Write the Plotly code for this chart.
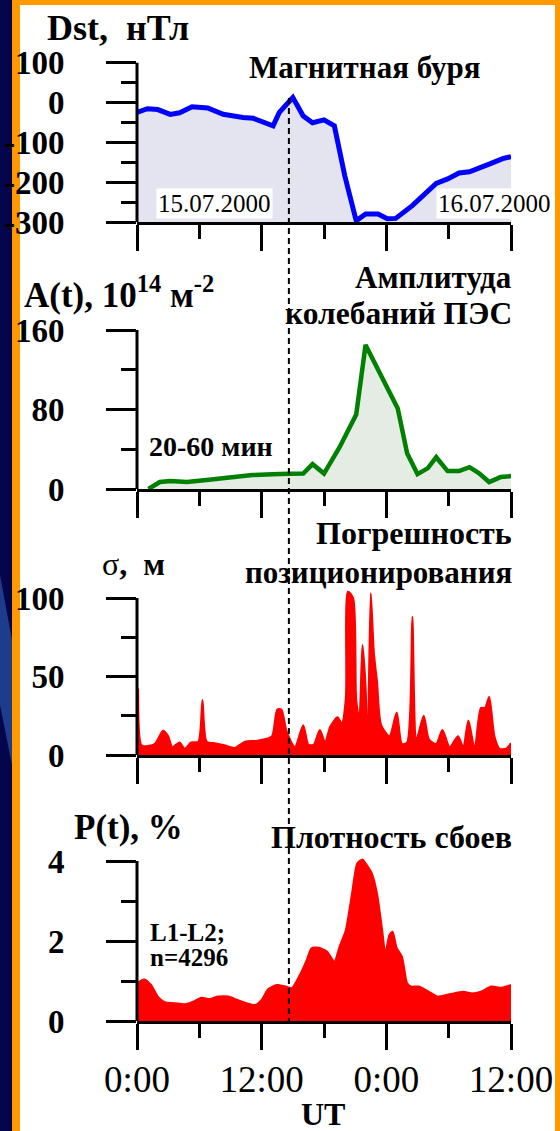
import plotly.graph_objects as go

W, H = 560, 1131
SERIF = "Liberation Serif"

# ---- Dst index, nT (hours from 0:00 UT 15.07.2000) ----
dst_t = [0.0, 1.0, 2.0, 3.2, 4.1, 5.3, 6.8, 8.3, 10.2, 11.2, 13.1, 13.7,
         15.0, 16.0, 16.9, 18.0, 19.0, 20.0, 21.1, 22.0, 23.2, 24.1, 24.9,
         26.5, 28.8, 29.9, 31.0, 32.0, 33.9, 35.2, 36.0]
dst_v = [-25, -16, -18, -30, -26, -11, -14, -30, -38, -40, -59, -25,
         12, -34, -51, -44, -59, -184, -297, -280, -280, -292, -291,
         -259, -203, -192, -177, -174, -155, -141, -136]

# ---- TEC oscillation amplitude A(t), 10^14 m^-2 (20-60 min periods) ----
amp_t = [1.1, 2.2, 3.2, 4.8, 6.7, 9.2, 11.1, 13.7, 16.0, 16.9, 18.0, 19.5,
         21.1, 22.0, 25.1, 26.0, 27.0, 28.0, 28.8, 29.9, 31.0, 32.0, 32.9,
         33.9, 35.0, 36.0]
amp_v = [0, 7, 8, 7, 9, 12, 14, 15, 15.5, 25, 15.5, 42,
         75, 145, 81, 36, 15, 21, 32, 18, 18, 22, 16,
         7, 12, 13]

# ---- positioning error sigma, m ----
sig_t = [0.0, 0.1, 0.45, 1.7, 2.5, 3.0, 3.4, 4.1, 4.6, 5.2, 5.9, 6.3, 6.7,
         7.5, 8.5, 9.4, 10.4, 11.4, 12.3, 13.0, 13.5, 13.9, 14.4, 15.2,
         16.0, 16.5, 17.0, 17.6, 18.1, 18.6, 19.3, 19.7, 20.1, 20.3, 20.8,
         21.1, 21.4, 21.7, 22.0, 22.2, 22.5, 22.8, 23.1, 23.5, 24.3, 25.0,
         25.5, 26.0, 26.5, 26.9, 27.6, 28.1, 28.8, 29.4, 30.1, 30.9, 31.4,
         31.9, 32.5, 33.1, 33.5, 33.9, 34.4, 34.9, 35.5, 36.0]
sig_v = [0, 42, 6, 7, 15.5, 12, 5, 8, 4, 8, 8.5, 35, 8.5,
         7.5, 6, 4.5, 8.5, 9, 10, 12, 29, 29, 15, 5,
         19, 6.5, 6.5, 16, 8, 18, 24, 20, 36, 104, 100,
         35, 23, 70, 44, 2, 103, 65, 47, 19, 12, 27,
         7, 8, 88, 10, 25, 10, 7, 16, 5, 12, 5,
         22, 4, 30, 30, 37, 12, 4, 4, 7.5]

# ---- cycle slip density P(t), % (L1-L2, n=4296) ----
slip_t = [0.0, 0.06, 0.7, 1.35, 2.0, 2.65, 3.9, 4.7, 5.4, 6.2, 7.0, 7.8,
          8.8, 9.6, 10.4, 11.35, 12.0, 12.6, 13.45, 14.3, 14.9, 15.6,
          16.35, 16.8, 17.5, 18.3, 19.0, 19.5, 20.1, 20.7, 21.2, 21.7,
          22.0, 22.6, 23.1, 23.6, 23.9, 24.3, 24.6, 25.0, 25.5, 26.0,
          26.4, 27.2, 28.1, 28.9, 30.1, 31.4, 32.3, 33.1, 34.1, 35.1, 36.0]
slip_v = [0, 0.94, 1.04, 0.9, 0.61, 0.47, 0.44, 0.42, 0.48, 0.58, 0.55, 0.61,
          0.61, 0.53, 0.46, 0.40, 0.53, 0.79, 0.90, 0.86, 0.82, 1.11,
          1.53, 1.82, 1.83, 1.73, 1.48, 1.86, 2.27, 3.19, 3.94, 4.04,
          3.94, 3.69, 3.19, 2.27, 1.69, 2.15, 2.23, 1.82, 1.61, 0.94,
          0.86, 0.86, 0.73, 0.61, 0.67, 0.73, 0.69, 0.73, 0.86, 0.83, 0.90]

storm_onset = 14.62  # sudden storm commencement, hours UT

x_ticks = [0, 12, 24, 36]
x_ticklabels = ["0:00", "12:00", "0:00", "12:00"]

dst_ticks = [100, 0, -100, -200, -300]
amp_ticks = [0, 80, 160]
sig_ticks = [0, 50, 100]
slip_ticks = [0, 2, 4]


def px(x):
    return x / W


def py(y):
    return 1 - y / H


fig = go.Figure()

# panel 1: Dst, filled down to the bottom of the axis
fig.add_trace(go.Scatter(x=[dst_t[0], dst_t[-1]], y=[min(dst_ticks)] * 2,
                         mode="lines", line=dict(width=0), hoverinfo="skip",
                         xaxis="x", yaxis="y", showlegend=False))
fig.add_trace(go.Scatter(x=dst_t, y=dst_v, mode="lines", fill="tonexty",
                         fillcolor="rgb(228,228,240)",
                         line=dict(color="#0000ff", width=5),
                         xaxis="x", yaxis="y", showlegend=False))

# panel 2: TEC amplitude
fig.add_trace(go.Scatter(x=amp_t, y=amp_v, mode="lines", fill="tozeroy",
                         fillcolor="rgb(228,236,228)",
                         line=dict(color="#008000", width=4.5),
                         xaxis="x2", yaxis="y2", showlegend=False))

# panel 3: positioning error
fig.add_trace(go.Scatter(x=sig_t, y=sig_v, mode="lines", fill="tozeroy",
                         fillcolor="#ff0000",
                         line=dict(color="#ff0000", width=2, shape="spline", smoothing=0.7),
                         xaxis="x3", yaxis="y3", showlegend=False))

# panel 4: slip density
fig.add_trace(go.Scatter(x=slip_t, y=slip_v, mode="lines", fill="tozeroy",
                         fillcolor="#ff0000",
                         line=dict(color="#ff0000", width=2, shape="spline", smoothing=0.6),
                         xaxis="x4", yaxis="y4", showlegend=False))

# panel placement in pixels: (y of top tick, y of bottom tick); a little headroom
# above the top tick lets the tallest peaks poke out above the axis
panels = [(62.5, 222), (330, 489), (598, 755), (861, 1021)]
ranges = [[-300, 100], [0, 160], [0, 100], [0, 4]]
headroom = [0, 0, 0.08, 0.04]
ytick_sets = [dst_ticks, amp_ticks, sig_ticks, slip_ticks]
minor_steps = [50, 40, 25, 1]
x_left, x_right = 137, 511
x_dom = [px(x_left), px(x_right)]

tick_font = dict(family=SERIF, size=33, color="black", weight="bold")
axis_lines = []
for i in range(4):
    sfx = "" if i == 0 else str(i + 1)
    top, bot = panels[i]
    lo, hi = ranges[i]
    extra = (hi - lo) * headroom[i]
    top_px = top - (bot - top) * headroom[i]
    fig.layout["yaxis" + sfx] = dict(
        domain=[py(bot), py(top_px)], range=[lo, hi + extra], anchor="x" + sfx,
        tickmode="array", tickvals=ytick_sets[i],
        ticktext=[str(v) for v in ytick_sets[i]],
        ticks="outside", ticklen=30, tickwidth=3, tickcolor="black",
        minor=dict(dtick=minor_steps[i], tick0=0, ticks="outside", ticklen=15,
                   tickwidth=3, tickcolor="black"),
        showline=False, showgrid=False, zeroline=False, tickfont=tick_font,
        ticklabelstandoff=35, automargin=False,
    )
    # vertical axis line only spans the labelled range
    axis_lines.append(dict(type="line", xref="paper", yref="y" + sfx,
                           x0=px(x_left), x1=px(x_left), y0=lo, y1=hi,
                           line=dict(color="black", width=3)))
    fig.layout["xaxis" + sfx] = dict(
        domain=x_dom, range=[0, 36], anchor="y" + sfx,
        tickmode="array", tickvals=x_ticks, ticktext=x_ticklabels,
        showticklabels=(i == 3),
        ticks="outside", ticklen=26, tickwidth=3, tickcolor="black",
        minor=dict(dtick=6, tick0=0, ticks="outside", ticklen=14,
                   tickwidth=3, tickcolor="black"),
        showline=True, linewidth=3, linecolor="black",
        showgrid=False, zeroline=False,
        tickfont=dict(family=SERIF, size=37, color="black"),
        ticklabelstandoff=-2, automargin=False,
    )

# frame: slide background, orange border, white panel
shapes = [
    dict(type="rect", xref="paper", yref="paper", x0=0, x1=px(12), y0=0, y1=1,
         fillcolor="rgb(5,5,75)", line=dict(width=0), layer="below"),
    dict(type="path", xref="paper", yref="paper",
         path=f"M 0,{py(575)} L {px(12)},{py(640)} L {px(12)},{py(765)} L 0,{py(705)} Z",
         fillcolor="rgb(30,60,140)", line=dict(width=0), layer="below"),
    dict(type="rect", xref="paper", yref="paper", x0=px(20), x1=px(555),
         y0=0, y1=py(5), fillcolor="white", line=dict(width=0), layer="below"),
    dict(type="line", xref="x", yref="paper", x0=storm_onset, x1=storm_onset,
         y0=py(98), y1=py(1022), line=dict(color="black", width=2, dash="6px,4px")),
] + axis_lines
fig.update_layout(shapes=shapes)


def label(text, x, y, size, xanchor="left", bold=True, bg=None):
    fig.add_annotation(
        text=text, x=px(x), y=py(y), xref="paper", yref="paper",
        xanchor=xanchor, yanchor="middle", showarrow=False,
        font=dict(family=SERIF, size=size, color="black",
                  weight="bold" if bold else "normal"),
        bgcolor=bg, borderpad=1,
    )


NB = "\u00a0"
label(f"Dst,{NB}{NB}нТл", 45, 28, 36)
label("Магнитная буря", 483, 68, 31, xanchor="right")
label("15.07.2000", 214, 204, 25, xanchor="center", bold=False, bg="white")
label("16.07.2000", 494, 204, 25, xanchor="center", bold=False, bg="white")

label(f"A(t), 10<sup>14</sup>{NB}м<sup>-2</sup>", 22, 292, 35)
label("Амплитуда", 514, 277, 31, xanchor="right")
label("колебаний ПЭС", 514, 314, 31.5, xanchor="right")
label("20-60 мин", 147, 446, 28)

label(f"σ<b>,{NB}{NB}м</b>", 100, 564, 32, bold=False)
label("Погрешность", 514, 533, 32, xanchor="right")
label("позиционирования", 514, 572, 31, xanchor="right")

label(f"P(t),{NB}%", 72, 827, 35)
label("Плотность сбоев", 514, 837, 32, xanchor="right")
label("L1-L2;", 148, 932, 25)
label("n=4296", 148, 957, 25)

label("UT", 323, 1114, 32, xanchor="center")

fig.update_layout(
    width=W, height=H, margin=dict(l=0, r=0, t=0, b=0, autoexpand=False),
    paper_bgcolor="#ff9900", plot_bgcolor="rgba(0,0,0,0)",
    showlegend=False,
)

fig.write_html("out.html")
